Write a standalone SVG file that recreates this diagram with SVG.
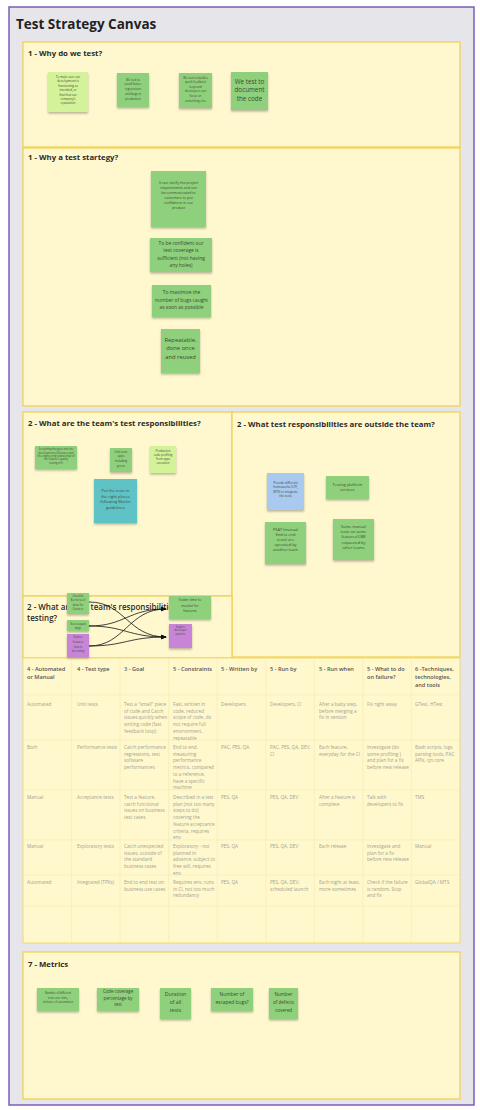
<svg xmlns="http://www.w3.org/2000/svg" width="480" height="1110" viewBox="0 0 480 1110">
<defs>
<style>
text{font-family:"Open Sans","Liberation Sans",sans-serif;}
.frame{fill:#e6e6ea;stroke:#7b5db7;stroke-width:1.5;}
.sec{fill:#fff8cf;stroke:#f1d158;stroke-width:1.3;}
.title{font-size:13.5px;font-weight:700;fill:#1f1f24;}
.st{font-size:7.8px;font-weight:700;fill:#2a2a2a;}
.g{fill:#8fd07b;filter:url(#sh);}
.lg{fill:#d3f29a;filter:url(#sh);}
.tl{fill:#5ec3c6;filter:url(#sh);}
.bl{fill:#a9c9f1;filter:url(#sh);}
.pu{fill:#c885d8;filter:url(#sh);}
.nt{fill:#3d4a33;text-anchor:middle;}
.th{font-size:5.6px;font-weight:600;fill:#555;}
.td{font-size:4.7px;fill:#a3a396;}
.grid{stroke:#f2e9b6;stroke-width:0.6;fill:none;}
.conn{stroke:#111;stroke-width:0.8;fill:none;marker-end:url(#arr);}
</style>
<filter id="sh" x="-20%" y="-20%" width="140%" height="150%">
<feDropShadow dx="0" dy="1.6" stdDeviation="1.1" flood-color="#000" flood-opacity="0.28"/>
</filter>
<marker id="arr" viewBox="0 0 10 10" refX="9" refY="5" markerWidth="6" markerHeight="6" orient="auto" markerUnits="userSpaceOnUse">
<path d="M0,1 L10,5 L0,9 z" fill="#111"/>
</marker>
</defs>
<rect x="0" y="0" width="480" height="1110" fill="#ffffff"/>
<rect class="frame" x="9" y="7" width="465" height="1098"/>
<text class="title" x="16" y="29">Test Strategy Canvas</text>

<!-- Section 1 -->
<g id="sec-why-test">
<rect class="sec" x="23" y="42" width="437" height="105"/>
<text class="st" x="28" y="55.5">1 - Why do we test?</text>
</g>
<g id="n-why1"><rect class="lg" x="48" y="72" width="40" height="40"/>
<text class="nt" font-size="3" x="68" y="78"><tspan x="68">To make sure our</tspan><tspan x="68" dy="4.4">development is</tspan><tspan x="68" dy="4.4">functioning as</tspan><tspan x="68" dy="4.4">intended, or</tspan><tspan x="68" dy="4.4">that that our</tspan><tspan x="68" dy="4.4">company's</tspan><tspan x="68" dy="4.4">reputation</tspan></text></g>
<g id="n-why2"><rect class="g" x="117" y="73" width="32" height="34"/>
<text class="nt" font-size="3" x="133" y="80.5"><tspan x="133">We test to</tspan><tspan x="133" dy="4.9">avoid future</tspan><tspan x="133" dy="4.9">regressions</tspan><tspan x="133" dy="4.9">and bugs in</tspan><tspan x="133" dy="4.9">production</tspan></text></g>
<g id="n-why3"><rect class="g" x="179" y="73" width="33" height="35"/>
<text class="nt" font-size="3" x="195.5" y="78.5"><tspan x="195.5">We test to build a</tspan><tspan x="195.5" dy="4.6">quick feedback</tspan><tspan x="195.5" dy="4.6">loop and</tspan><tspan x="195.5" dy="4.6">developers can</tspan><tspan x="195.5" dy="4.6">focus on</tspan><tspan x="195.5" dy="4.6">something else</tspan></text></g>
<g id="n-why4"><rect class="g" x="231" y="72" width="37" height="38"/>
<text class="nt" font-size="6.3" x="249.5" y="83.5"><tspan x="249.5">We test to</tspan><tspan x="249.5" dy="8.7">document</tspan><tspan x="249.5" dy="8.7">the code</tspan></text></g>

<!-- Section 2 -->
<g id="sec-why-strategy">
<rect class="sec" x="23" y="148" width="437" height="258"/>
<text class="st" x="28" y="160">1 - Why a test startegy?</text>
</g>
<g id="n-strat1"><rect class="g" x="151" y="171" width="55" height="56"/>
<text class="nt" font-size="3.6" x="178.5" y="184"><tspan x="178.5">It can clarify the project</tspan><tspan x="178.5" dy="5">requirements and can</tspan><tspan x="178.5" dy="5">be communicated to</tspan><tspan x="178.5" dy="5">customers to put</tspan><tspan x="178.5" dy="5">confidence in our</tspan><tspan x="178.5" dy="5">product</tspan></text></g>
<g id="n-strat2"><rect class="g" x="150" y="238" width="62" height="34"/>
<text class="nt" font-size="4.9" x="181" y="245"><tspan x="181">To be confident our</tspan><tspan x="181" dy="7.4">test coverage is</tspan><tspan x="181" dy="7.4">sufficient (not having</tspan><tspan x="181" dy="7.4">any holes)</tspan></text></g>
<g id="n-strat3"><rect class="g" x="152" y="285" width="59" height="32"/>
<text class="nt" font-size="4.9" x="181.5" y="294"><tspan x="181.5">To maximize the</tspan><tspan x="181.5" dy="7.5">number of bugs caught</tspan><tspan x="181.5" dy="7.5">as soon as possible</tspan></text></g>
<g id="n-strat4"><rect class="g" x="161" y="329" width="39" height="44"/>
<text class="nt" font-size="5.8" x="180.5" y="341.5"><tspan x="180.5">Repeatable,</tspan><tspan x="180.5" dy="8.8">done once</tspan><tspan x="180.5" dy="8.8">and reused</tspan></text></g>

<!-- Section 3 left -->
<g id="sec-team">
<rect class="sec" x="23" y="412" width="209" height="184"/>
<text class="st" x="28" y="426">2 - What are the team's test responsibilities?</text>
</g>
<g id="n-team1"><rect class="g" x="35" y="446" width="42" height="23"/>
<text class="nt" font-size="2.6" x="56" y="450.3"><tspan x="56">Everything that goes into the</tspan><tspan x="56" dy="3.3">development of features and</tspan><tspan x="56" dy="3.3">the engineering (ownership) of</tspan><tspan x="56" dy="3.3">the feature's quality</tspan><tspan x="56" dy="3.3">testing of it</tspan></text></g>
<g id="n-team2"><rect class="g" x="110" y="448" width="22" height="24"/>
<text class="nt" font-size="2.9" x="121" y="452.7"><tspan x="121">Unit tests</tspan><tspan x="121" dy="4.6">apps</tspan><tspan x="121" dy="4.6">including</tspan><tspan x="121" dy="4.6">green</tspan></text></g>
<g id="n-team3"><rect class="lg" x="150" y="446" width="26" height="27"/>
<text class="nt" font-size="2.9" x="163" y="451.7"><tspan x="163">Production</tspan><tspan x="163" dy="4">code profiling</tspan><tspan x="163" dy="4">from apps</tspan><tspan x="163" dy="4">execution</tspan></text></g>
<g id="n-team4"><rect class="tl" x="94" y="479" width="43" height="44"/>
<text class="nt" font-size="4" x="115.5" y="492"><tspan x="115.5">Put the tests in</tspan><tspan x="115.5" dy="5.6">the right places</tspan><tspan x="115.5" dy="5.6">following Martin</tspan><tspan x="115.5" dy="5.6">guidelines</tspan></text></g>

<!-- Section 3 right -->
<g id="sec-outside">
<rect class="sec" x="232" y="412" width="228" height="245"/>
<text class="st" x="237" y="426.5">2 - What test responsibilities are outside the team?</text>
</g>
<g id="n-out1"><rect class="bl" x="267" y="473" width="37" height="37"/>
<text class="nt" font-size="3.1" x="285.5" y="484"><tspan x="285.5">Provide different</tspan><tspan x="285.5" dy="4.3">frameworks (CTF,</tspan><tspan x="285.5" dy="4.3">MTS) to integrate</tspan><tspan x="285.5" dy="4.3">the tests</tspan></text></g>
<g id="n-out2"><rect class="g" x="326" y="476" width="43" height="23"/>
<text class="nt" font-size="3.9" x="347.5" y="485.5"><tspan x="347.5">Testing platform</tspan><tspan x="347.5" dy="5.4">services</tspan></text></g>
<g id="n-out3"><rect class="g" x="265" y="522" width="41" height="42"/>
<text class="nt" font-size="3.9" x="285.5" y="530.5"><tspan x="285.5">PSAT (manual</tspan><tspan x="285.5" dy="5.2">End to end</tspan><tspan x="285.5" dy="5.2">tests) are</tspan><tspan x="285.5" dy="5.2">operated by</tspan><tspan x="285.5" dy="5.2">another team</tspan></text></g>
<g id="n-out4"><rect class="g" x="333" y="519" width="41" height="41"/>
<text class="nt" font-size="3.9" x="353.5" y="528"><tspan x="353.5">Some manual</tspan><tspan x="353.5" dy="5.2">tests on some</tspan><tspan x="353.5" dy="5.2">features/CBR</tspan><tspan x="353.5" dy="5.2">requested by</tspan><tspan x="353.5" dy="5.2">other teams</tspan></text></g>

<!-- Section testing -->
<g id="sec-testing">
<rect class="sec" x="23" y="596" width="209" height="62"/>
<text font-size="8" font-weight="600" fill="#2a2a2a" x="27" y="610">2 - What are the team's responsibilities during</text>
<text font-size="8" font-weight="600" fill="#2a2a2a" x="27" y="620.5">testing?</text>
</g>

<!-- Table -->
<g id="table">
<rect x="23" y="658" width="437" height="285" fill="#fff8cc" stroke="#f1d158" stroke-width="0.8"/>
<path class="grid" d="M71.6,658V943M120.1,658V943M168.7,658V943M217.2,658V943M265.8,658V943M314.3,658V943M362.9,658V943M411.4,658V943M23,695H460M23,740H460M23,790H460M23,840H460M23,875H460M23,906H460"/>
<g class="th">
<text x="27" y="670.5">4 - Automated<tspan x="27" dy="8">or Manual</tspan></text>
<text x="77" y="670.5">4 - Test type</text>
<text x="124" y="670.5">3 - Goal</text>
<text x="173" y="670.5">5 - Constraints</text>
<text x="221" y="670.5">5 - Written by</text>
<text x="270" y="670.5">5 - Run by</text>
<text x="319" y="670.5">5 - Run when</text>
<text x="367" y="670.5">5 - What to do<tspan x="367" dy="8">on failure?</tspan></text>
<text x="415" y="670.5">6 -Techniques,<tspan x="415" dy="8">technologies,</tspan><tspan x="415" dy="8">and tools</tspan></text>
</g>
<g class="td">
<text x="27" y="706">Automated</text>
<text x="77" y="706">Unit tests</text>
<text x="124" y="706">Test a "small" piece<tspan x="124" dy="6.7">of code and Catch</tspan><tspan x="124" dy="6.7">issues quickly when</tspan><tspan x="124" dy="6.7">writing code (fast</tspan><tspan x="124" dy="6.7">feedback loop)</tspan></text>
<text x="173" y="706">Fast, written in<tspan x="173" dy="6.7">code, reduced</tspan><tspan x="173" dy="6.7">scope of code, do</tspan><tspan x="173" dy="6.7">not require full</tspan><tspan x="173" dy="6.7">environment,</tspan><tspan x="173" dy="6.7">repeatable</tspan></text>
<text x="221" y="706">Developers</text>
<text x="270" y="706">Developers, CI</text>
<text x="319" y="706">After a baby step,<tspan x="319" dy="6.7">before merging a</tspan><tspan x="319" dy="6.7">fix in version</tspan></text>
<text x="367" y="706">Fix right away</text>
<text x="415" y="706">GTest, HTest</text>

<text x="27" y="749">Both</text>
<text x="77" y="749">Performance tests</text>
<text x="124" y="749">Catch performance<tspan x="124" dy="6.7">regressions, test</tspan><tspan x="124" dy="6.7">software</tspan><tspan x="124" dy="6.7">performances</tspan></text>
<text x="173" y="749">End to end,<tspan x="173" dy="6.7">measuring</tspan><tspan x="173" dy="6.7">performance</tspan><tspan x="173" dy="6.7">metrics, compared</tspan><tspan x="173" dy="6.7">to a reference,</tspan><tspan x="173" dy="6.7">have a specific</tspan><tspan x="173" dy="6.7">machine</tspan></text>
<text x="221" y="749">PAC, PES, QA</text>
<text x="270" y="749">PAC, PES, QA, DEV,<tspan x="270" dy="6.7">CI</tspan></text>
<text x="319" y="749">Each feature,<tspan x="319" dy="6.7">everyday for the CI</tspan></text>
<text x="367" y="749">Investigate (do<tspan x="367" dy="6.7">some profiling )</tspan><tspan x="367" dy="6.7">and plan for a fix</tspan><tspan x="367" dy="6.7">before new release</tspan></text>
<text x="415" y="749">Bash scripts, logs<tspan x="415" dy="6.7">parsing tools, PAC</tspan><tspan x="415" dy="6.7">APIs, cjn core</tspan></text>

<text x="27" y="799">Manual</text>
<text x="77" y="799">Acceptance tests</text>
<text x="124" y="799">Test a feature,<tspan x="124" dy="6.7">catch functional</tspan><tspan x="124" dy="6.7">issues on business</tspan><tspan x="124" dy="6.7">test cases</tspan></text>
<text x="173" y="799">Described in a test<tspan x="173" dy="6.7">plan (not too many</tspan><tspan x="173" dy="6.7">steps to do)</tspan><tspan x="173" dy="6.7">covering the</tspan><tspan x="173" dy="6.7">feature acceptance</tspan><tspan x="173" dy="6.7">criteria, requires</tspan><tspan x="173" dy="6.7">env</tspan></text>
<text x="221" y="799">PES, QA</text>
<text x="270" y="799">PES, QA, DEV</text>
<text x="319" y="799">After a feature is<tspan x="319" dy="6.7">complete</tspan></text>
<text x="367" y="799">Talk with<tspan x="367" dy="6.7">developers to fix</tspan></text>
<text x="415" y="799">TMS</text>

<text x="27" y="848">Manual</text>
<text x="77" y="848">Exploratory tests</text>
<text x="124" y="848">Catch unexpected<tspan x="124" dy="6.7">issues, outside of</tspan><tspan x="124" dy="6.7">the standard</tspan><tspan x="124" dy="6.7">business cases</tspan></text>
<text x="173" y="848">Exploratory - not<tspan x="173" dy="6.7">planned in</tspan><tspan x="173" dy="6.7">advance, subject to</tspan><tspan x="173" dy="6.7">free will, requires</tspan><tspan x="173" dy="6.7">env</tspan></text>
<text x="221" y="848">PES, QA</text>
<text x="270" y="848">PES, QA, DEV</text>
<text x="319" y="848">Each release</text>
<text x="367" y="848">Investigate and<tspan x="367" dy="6.7">plan for a fix</tspan><tspan x="367" dy="6.7">before new release</tspan></text>
<text x="415" y="848">Manual</text>

<text x="27" y="884">Automated</text>
<text x="77" y="884">Integrated (TPKs)</text>
<text x="124" y="884">End to end test on<tspan x="124" dy="6.7">business use cases</tspan></text>
<text x="173" y="884">Requires env, runs<tspan x="173" dy="6.7">in CI, not too much</tspan><tspan x="173" dy="6.7">redundancy</tspan></text>
<text x="221" y="884">PES, QA</text>
<text x="270" y="884">PES, QA, DEV,<tspan x="270" dy="6.7">scheduled launch</tspan></text>
<text x="319" y="884">Each night at least,<tspan x="319" dy="6.7">more sometimes</tspan></text>
<text x="367" y="884">Check if the failure<tspan x="367" dy="6.7">is random, Stop</tspan><tspan x="367" dy="6.7">and fix</tspan></text>
<text x="415" y="884">GlobalQA / MTS</text>
</g>
</g>

<!-- Connectors -->
<g id="connectors">
<path class="conn" d="M89,602 C125,602 128,637 166,637"/>
<path class="conn" d="M89,626 C125,626 128,609 166,609"/>
<path class="conn" d="M89,626 C125,626 128,637 166,637"/>
<path class="conn" d="M89,646 C125,646 128,609 166,609"/>
<path class="conn" d="M89,646 C125,646 128,637 166,637"/>
</g>

<g id="n-test1"><rect class="g" x="67" y="593" width="22" height="21"/>
<text class="nt" font-size="2.7" x="78" y="597"><tspan x="78">Checklist</tspan><tspan x="78" dy="4.3">&amp; criteria of</tspan><tspan x="78" dy="4.3">done for</tspan><tspan x="78" dy="4.3">features</tspan></text></g>
<g id="n-test2"><rect class="g" x="67" y="620" width="22" height="11"/>
<text class="nt" font-size="2.7" x="78" y="624.5"><tspan x="78">Get escaped</tspan><tspan x="78" dy="4">bugs</tspan></text></g>
<g id="n-test3"><rect class="pu" x="67" y="634" width="22" height="23"/>
<text class="nt" font-size="2.7" x="78" y="638.3"><tspan x="78">Explore</tspan><tspan x="78" dy="4.7">features</tspan><tspan x="78" dy="4.7">how to</tspan><tspan x="78" dy="4.7">do testing</tspan></text></g>
<g id="n-test4"><rect class="g" x="169" y="596" width="42" height="23"/>
<text class="nt" font-size="3.5" x="190" y="601.3"><tspan x="190">Faster time to</tspan><tspan x="190" dy="5.3">market for</tspan><tspan x="190" dy="5.3">features</tspan></text></g>
<g id="n-test5"><rect class="pu" x="169" y="624" width="23" height="24"/>
<text class="nt" font-size="2.7" x="180.5" y="627.7"><tspan x="180.5">Explore</tspan><tspan x="180.5" dy="3.7">developer</tspan><tspan x="180.5" dy="3.7">practice</tspan></text></g>

<!-- Metrics -->
<g id="sec-metrics">
<rect class="sec" x="23" y="952" width="437" height="147"/>
<text class="st" x="28" y="967">7 - Metrics</text>
</g>
<g id="n-met1"><rect class="g" x="37" y="988" width="42" height="23"/>
<text class="nt" font-size="2.8" x="58" y="994.3"><tspan x="58">Number of different</tspan><tspan x="58" dy="4.4">tests over time,</tspan><tspan x="58" dy="4.4">inclusive of automation</tspan></text></g>
<g id="n-met2"><rect class="g" x="97" y="988" width="42" height="23"/>
<text class="nt" font-size="4.4" x="118" y="993.3"><tspan x="118">Code coverage</tspan><tspan x="118" dy="6.5">percentage by</tspan><tspan x="118" dy="6.5">test</tspan></text></g>
<g id="n-met3"><rect class="g" x="160" y="988" width="31" height="31"/>
<text class="nt" font-size="5.2" x="175.5" y="996.2"><tspan x="175.5">Duration</tspan><tspan x="175.5" dy="7.8">of all</tspan><tspan x="175.5" dy="7.8">tests</tspan></text></g>
<g id="n-met4"><rect class="g" x="211" y="988" width="42" height="23"/>
<text class="nt" font-size="4.9" x="232" y="996.2"><tspan x="232">Number of</tspan><tspan x="232" dy="7.7">escaped bugs?</tspan></text></g>
<g id="n-met5"><rect class="g" x="269" y="988" width="29" height="31"/>
<text class="nt" font-size="4.6" x="283.5" y="996.2"><tspan x="283.5">Number</tspan><tspan x="283.5" dy="7.7">of defects</tspan><tspan x="283.5" dy="7.7">covered</tspan></text></g>
</svg>
